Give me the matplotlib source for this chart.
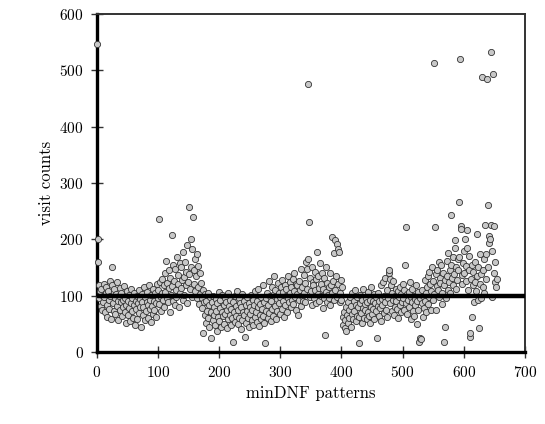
import numpy as np
import matplotlib
matplotlib.use("Agg")
import matplotlib.pyplot as plt

# ==============================
# DATOS
# ==============================

visit_counts = [
    546, 200, 160, 118, 95, 108, 82, 112, 75, 100,
    88, 121, 97, 70, 104, 115, 84, 62, 109, 93,
    77, 126, 100, 58, 118, 150, 86, 72, 111, 95,
    67, 102, 81, 124, 90, 56, 99, 113, 74, 88,
    105, 63, 92, 80, 117, 70, 96, 52, 84, 108,
    66, 90, 78, 101, 55, 87, 112, 73, 95, 61,
    83, 104, 48, 91, 76, 99, 58, 86, 110, 69,
    94, 80, 45, 88, 102, 65, 79, 115, 57, 97,
    72, 89, 106, 60, 84, 118, 76, 93, 53, 101,
    82, 68, 112, 91, 75, 105, 62, 87, 120, 95,
    110, 85, 236, 125, 98, 72, 130, 104, 92, 118,
    80, 140, 106, 162, 95, 122, 88, 113, 145, 70,
    132, 101, 208, 117, 90, 155, 126, 84, 148, 110,
    97, 168, 121, 136, 79, 158, 104, 150, 114, 128,
    92, 178, 133, 101, 160, 118, 142, 87, 190, 125,
    258, 138, 112, 200, 150, 98, 182, 240, 145, 120,
    165, 108, 134, 173, 95, 152, 116, 85, 140, 103,
    122, 78, 96, 34, 110, 88, 65, 102, 52, 91,
    72, 105, 60, 84, 44, 98, 70, 25, 88, 57,
    100, 66, 80, 48, 94, 73, 38, 86, 62, 107,
    55, 78, 92, 45, 70, 101, 63, 84, 50, 96,
    68, 88, 42, 75, 104, 58, 81, 66, 93, 47,
    77, 60, 17, 89, 71, 99, 53, 82, 64, 108,
    49, 74, 95, 61, 86, 40, 79, 103, 56, 70,
    91, 65, 26, 84, 52, 98, 73, 60, 87, 44,
    80, 68, 101, 57, 75, 93, 48, 83, 62, 109,
    71, 54, 90, 79, 112, 46, 85, 66, 97, 58,
    76, 118, 63, 88, 51, 16, 95, 72, 104, 60,
    84, 126, 69, 99, 55, 91, 77, 115, 64, 102,
    134, 81, 110, 58, 94, 72, 122, 86, 104, 67,
    98, 115, 76, 128, 90, 106, 62, 118, 83, 100,
    112, 71, 95, 135, 88, 124, 104, 79, 116, 93,
    130, 85, 108, 140, 97, 74, 120, 103, 118, 66,
    92, 126, 110, 82, 148, 100, 115, 90, 137, 105,
    122, 88, 160, 112, 147, 165, 476, 230, 98, 132,
    108, 150, 84, 125, 118, 96, 142, 110, 87, 129,
    177, 102, 134, 114, 90, 158, 120, 100, 140, 78,
    112, 96, 131, 30, 106, 150, 88, 122, 101, 115,
    95, 140, 83, 118, 104, 204, 126, 92, 175, 110,
    199, 135, 98, 192, 120, 183, 178, 105, 88, 127,
    93, 115, 62, 48, 70, 42, 56, 80, 38, 65,
    52, 88, 74, 60, 98, 45, 82, 67, 105, 58,
    90, 72, 110, 55, 84, 64, 97, 79, 62, 16,
    87, 101, 69, 93, 51, 78, 112, 61, 85, 74,
    96, 58, 88, 107, 70, 64, 93, 52, 80, 115,
    67, 91, 76, 103, 59, 86, 72, 98, 24, 82,
    105, 63, 90, 78, 118, 55, 94, 84, 125, 69,
    100, 88, 132, 74, 110, 62, 96, 140, 145, 130,
    86, 118, 72, 104, 93, 126, 66, 99, 80, 112,
    91, 77, 108, 60, 97, 84, 115, 70, 102, 88,
    120, 95, 74, 110, 154, 222, 86, 103, 68, 92,
    106, 80, 125, 58, 98, 88, 112, 72, 100, 64,
    94, 83, 118, 50, 90, 107, 75, 18, 25, 96,
    23, 86, 110, 62, 99, 78, 128, 91, 70, 104,
    115, 85, 135, 97, 142, 120, 74, 108, 150, 93,
    126, 102, 513, 221, 138, 75, 117, 145, 110, 160,
    98, 132, 122, 155, 105, 85, 140, 18, 118, 45,
    128, 96, 162, 135, 110, 175, 125, 145, 104, 155,
    243, 132, 118, 168, 138, 199, 185, 112, 150, 128,
    165, 145, 169, 267, 520, 224, 219, 136, 120, 158,
    180, 140, 200, 126, 152, 216, 185, 110, 145, 170,
    27, 34, 130, 62, 155, 118, 142, 88, 160, 125,
    108, 135, 209, 92, 150, 42, 120, 173, 138, 95,
    488, 145, 116, 165, 104, 226, 130, 173, 485, 261,
    150, 193, 205, 200, 225, 532, 97, 180, 494, 224,
    140, 125, 160, 115, 130,
]
minDNF_patterns = np.arange(len(visit_counts))

linea_referencia = 100
xticks = [0, 100, 200, 300, 400, 500, 600, 700]
yticks = [0, 100, 200, 300, 400, 500, 600]

# ==============================
# ESTILO
# ==============================

plt.rcParams["font.family"] = "cmr10"
plt.rcParams["mathtext.fontset"] = "cm"
plt.rcParams["axes.unicode_minus"] = False
plt.rcParams["axes.formatter.use_mathtext"] = True

fig = plt.figure(figsize=(5.45, 4.24), dpi=100)
ax = fig.add_axes([0.178, 0.170, 0.785, 0.797])

ax.scatter(
    minDNF_patterns,
    visit_counts,
    s=20,
    facecolor="#c8c8c8",
    edgecolor="#333333",
    linewidth=0.6,
    zorder=4,
    clip_on=False
)

ax.axhline(linea_referencia, color="black", linewidth=3.2, zorder=5)

ax.set_xlim(0, 700)
ax.set_ylim(0, 600)
ax.set_xticks(xticks)
ax.set_yticks(yticks)

ax.set_xlabel("minDNF patterns", fontsize=12)
ax.set_ylabel("visit counts", fontsize=12)

ax.tick_params(direction="inout", length=9, width=1, colors="#333333",
               labelcolor="black", labelsize=11, pad=5)

for lado in ["left", "bottom"]:
    ax.spines[lado].set_linewidth(2.4)
    ax.spines[lado].set_color("black")
for lado in ["top", "right"]:
    ax.spines[lado].set_linewidth(1.4)
    ax.spines[lado].set_color("#333333")

fig.savefig("out.png", dpi=100)
